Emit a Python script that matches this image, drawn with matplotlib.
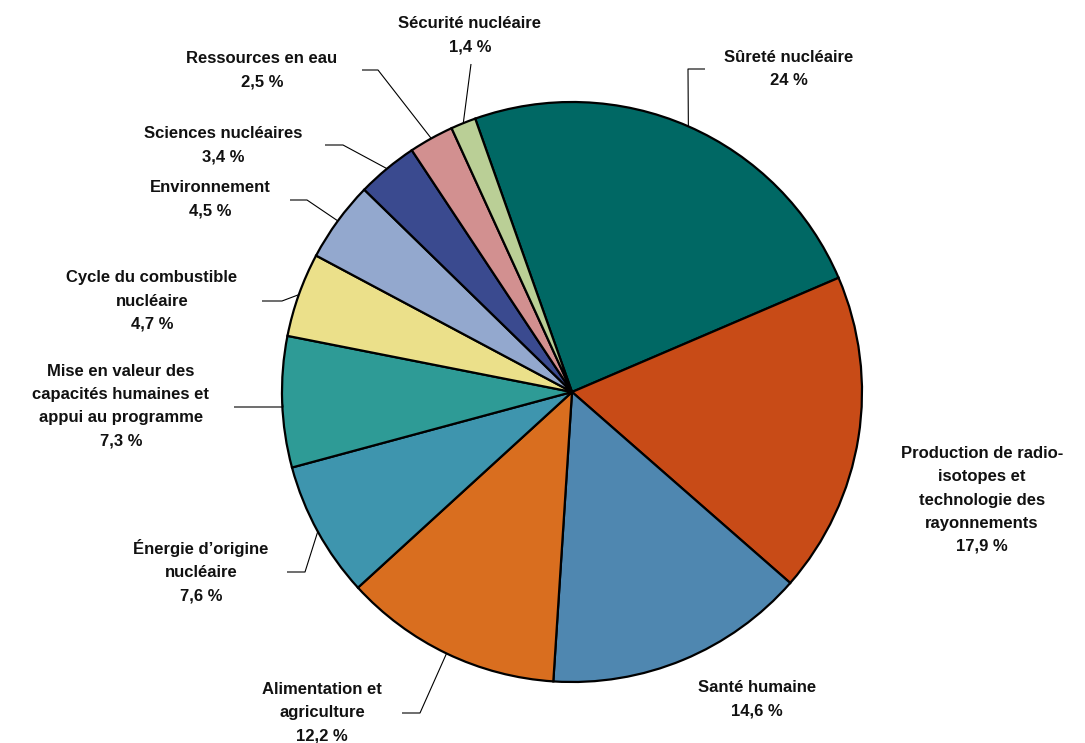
import matplotlib
matplotlib.use("Agg")
import matplotlib.pyplot as plt
import numpy as np

# ---- data ----
categories = [
    "Sûreté nucléaire",
    "Production de radio-\nisotopes et\ntechnologie des\nrayonnements",
    "Santé humaine",
    "Alimentation et\nagriculture",
    "Énergie d’origine\nnucléaire",
    "Mise en valeur des\ncapacités humaines et\nappui au programme",
    "Cycle du combustible\nnucléaire",
    "Environnement",
    "Sciences nucléaires",
    "Ressources en eau",
    "Sécurité nucléaire",
]
values = [24, 17.9, 14.6, 12.2, 7.6, 7.3, 4.7, 4.5, 3.4, 2.5, 1.4]
value_labels = ["24 %", "17,9 %", "14,6 %", "12,2 %", "7,6 %", "7,3 %",
                "4,7 %", "4,5 %", "3,4 %", "2,5 %", "1,4 %"]

# ---- styling / layout ----
colors = ["#006864", "#C84B17", "#4F87B0", "#D96E1F", "#3E95AE", "#2E9B96",
          "#EBE08A", "#93A8CE", "#3A4A8F", "#D29090", "#BACF96"]

W, H = 1085, 743
CX, CY, R = 572, 392, 290

def px(x, y):
    return (x - CX) / R, (CY - y) / R

# label centres (pixels)
label_pos = [(789, 69), (982, 500), (757, 699), (322, 713), (201, 571),
             (121, 406), (152, 301), (210, 199), (223, 145), (262, 70),
             (470, 35)]
# leader horizontal segments (pixels): (x_start, x_end, y) or None
leaders = [(705, 688, 69), None, None, (402, 420, 713), (287, 305, 572),
           (234, 283, 407), (262, 282, 301), (290, 307, 200), (325, 343, 145),
           (362, 378, 70), (471, 471, 64)]

fig = plt.figure(figsize=(W / 100, H / 100), dpi=100)
ax = fig.add_axes([0, 0, 1, 1])

start = 90 + 19.5
wedges, _ = ax.pie(values, colors=colors, startangle=start, counterclock=False,
                   radius=1.0, center=(0, 0), frame=True,
                   wedgeprops=dict(edgecolor="black", linewidth=1.6))
ax.set_xlim(-CX / R, (W - CX) / R)
ax.set_ylim((CY - H) / R, CY / R)
ax.set_aspect("auto")
ax.axis("off")

for i, w in enumerate(wedges):
    mid = np.deg2rad((w.theta1 + w.theta2) / 2)
    ex, ey = np.cos(mid), np.sin(mid)
    lx, ly = px(*label_pos[i])
    ax.text(lx, ly, categories[i] + "\n" + value_labels[i], ha="center",
            va="center", fontsize=12, fontweight="bold",
            family=["Liberation Sans", "DejaVu Sans"], linespacing=1.68,
            color="#111111")
    if leaders[i] is not None:
        x0, x1, y = leaders[i]
        a = px(x0, y)
        b = px(x1, y)
        ax.plot([a[0], b[0], ex], [a[1], b[1], ey], color="black", lw=0.8,
                solid_capstyle="butt")

fig.savefig("out.png", dpi=100)
